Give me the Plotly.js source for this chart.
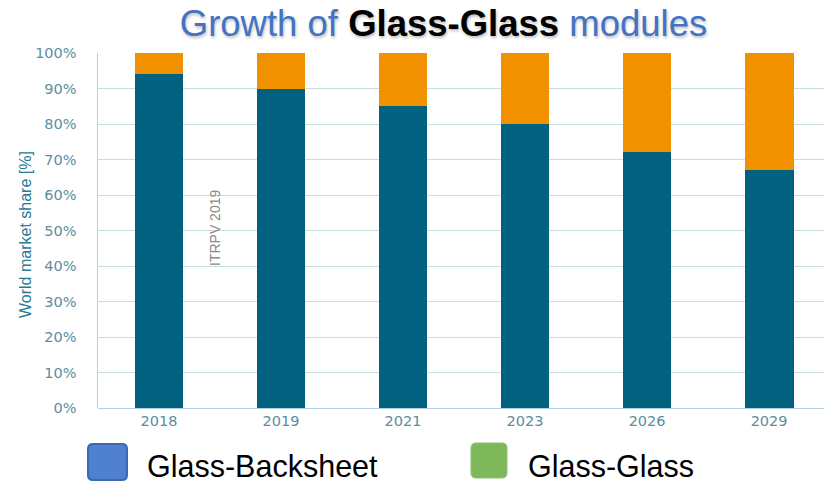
<!DOCTYPE html>
<html>
<head>
<meta charset="utf-8">
<script src="https://cdn.plot.ly/plotly-3.0.1.min.js"></script>
<style>html,body{margin:0;padding:0;background:#fff;}#chart{width:824px;height:487px;}</style>
</head>
<body>
<div id="chart"></div>
<script>
const years = ['2018', '2019', '2021', '2023', '2026', '2029'];
const glassBacksheet = [94, 90, 85, 80, 72, 67];
const glassGlass = [6, 10, 15, 20, 28, 33];
const yTicks = [0, 10, 20, 30, 40, 50, 60, 70, 80, 90, 100];
const yTickLabels = yTicks.map(v => v + '%');

const W = 824, H = 487, L = 98, T = 53, B = 79;
const pw = W - L, ph = H - T - B;
const px = x => (x - L) / pw;
const py = y => (H - B - y) / ph;

function roundRect(x0, y0, x1, y1, r) {
  const X = v => px(v).toFixed(5), Y = v => py(v).toFixed(5);
  return 'M' + X(x0 + r) + ',' + Y(y0) +
    ' L' + X(x1 - r) + ',' + Y(y0) +
    ' Q' + X(x1) + ',' + Y(y0) + ' ' + X(x1) + ',' + Y(y0 + r) +
    ' L' + X(x1) + ',' + Y(y1 - r) +
    ' Q' + X(x1) + ',' + Y(y1) + ' ' + X(x1 - r) + ',' + Y(y1) +
    ' L' + X(x0 + r) + ',' + Y(y1) +
    ' Q' + X(x0) + ',' + Y(y1) + ' ' + X(x0) + ',' + Y(y1 - r) +
    ' L' + X(x0) + ',' + Y(y0 + r) +
    ' Q' + X(x0) + ',' + Y(y0) + ' ' + X(x0 + r) + ',' + Y(y0) + ' Z';
}

const tickFont = {size: 14.5, color: '#5b8e9e', family: 'DejaVu Sans, Verdana, sans-serif'};

const traces = [
  {type: 'bar', x: years, y: glassBacksheet, name: 'Glass-Backsheet',
   marker: {color: '#01617f'}, width: 0.4, hoverinfo: 'x+y'},
  {type: 'bar', x: years, y: glassGlass, name: 'Glass-Glass',
   marker: {color: '#f39200'}, width: 0.4, hoverinfo: 'x+y'}
];

const layout = {
  width: W, height: H,
  margin: {l: L, r: 0, t: T, b: B, pad: 0},
  barmode: 'stack',
  showlegend: false,
  paper_bgcolor: '#ffffff',
  plot_bgcolor: '#ffffff',
  font: {family: 'Liberation Sans, Arial, sans-serif'},
  title: {
    text: 'Growth of <span style="color:#000000"><b>Glass-Glass</b></span> modules',
    font: {size: 36.5, color: '#4472c4', family: 'Liberation Sans, Arial, sans-serif',
           shadow: '1px 2px 3px rgba(0,0,0,0.25)'},
    x: (443.5 - L) / pw, xref: 'paper', xanchor: 'center',
    y: 1 - 23 / H, yref: 'container', yanchor: 'middle'
  },
  xaxis: {
    type: 'category',
    range: [-0.5, 5.45],
    showgrid: false,
    showline: false,
    zeroline: false,
    ticks: '',
    tickfont: tickFont,
    ticklabelstandoff: 2
  },
  yaxis: {
    range: [0, 100],
    tickvals: yTicks,
    ticktext: yTickLabels,
    showgrid: true,
    gridcolor: '#c9dde5',
    gridwidth: 1,
    showline: true,
    linecolor: '#b5d3de',
    linewidth: 1.5,
    zeroline: true,
    zerolinecolor: '#b5d3de',
    ticks: '',
    tickfont: tickFont,
    ticklabelstandoff: 17
  },
  shapes: [
    {type: 'path', xref: 'paper', yref: 'paper',
     path: roundRect(88, 444, 127, 480, 5),
     fillcolor: '#4f81d0', line: {color: '#3b68ae', width: 2}},
    {type: 'path', xref: 'paper', yref: 'paper',
     path: roundRect(471, 443, 507, 478, 5),
     fillcolor: '#7db85b', line: {color: '#8cc36b', width: 1}}
  ],
  annotations: [
    {text: 'World market share [%]', xref: 'paper', yref: 'paper',
     x: px(25), y: py(235), textangle: -90, showarrow: false,
     xanchor: 'center', yanchor: 'middle',
     font: {size: 16, color: '#2a7a96', family: 'Liberation Sans Narrow, Arial Narrow, sans-serif'}},
    {text: 'ITRPV 2019', xref: 'paper', yref: 'paper',
     x: px(215), y: py(228), textangle: -90, showarrow: false,
     xanchor: 'center', yanchor: 'middle',
     font: {size: 14, color: '#8a8a8a'}},
    {text: 'Glass-Backsheet', xref: 'paper', yref: 'paper',
     x: px(146), y: py(466), showarrow: false, borderpad: 0,
     xanchor: 'left', yanchor: 'middle',
     font: {size: 30.5, color: '#000000'}},
    {text: 'Glass-Glass', xref: 'paper', yref: 'paper',
     x: px(527), y: py(466), showarrow: false, borderpad: 0,
     xanchor: 'left', yanchor: 'middle',
     font: {size: 30.5, color: '#000000'}}
  ]
};

Plotly.newPlot('chart', traces, layout, {displayModeBar: false, staticPlot: true});
</script>
</body>
</html>
